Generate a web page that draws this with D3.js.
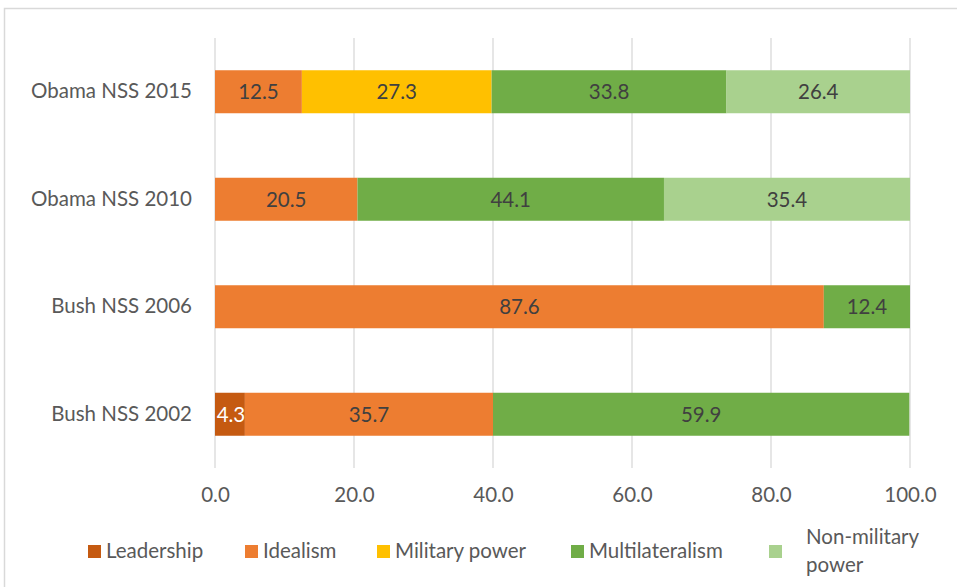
<!DOCTYPE html>
<html>
<head>
<meta charset="utf-8">
<script src="https://cdn.jsdelivr.net/npm/d3@7"></script>
<style>
	body { margin: 0; background: #fff; }
	svg { display: block; font-family: Lato, "Open Sans", sans-serif; }
</style>
</head>
<body>
<svg id="chart"></svg>
<script>
// categories bottom to top as read on the chart
const documents = ["Bush NSS 2002", "Bush NSS 2006", "Obama NSS 2010", "Obama NSS 2015"];
const seriesNames = ["Leadership", "Idealism", "Military power", "Multilateralism", "Non-military power"];
const leadership = [4.3, 0, 0, 0];
const idealism = [35.7, 87.6, 20.5, 12.5];
const militaryPower = [0, 0, 0, 27.3];
const multilateralism = [59.9, 12.4, 44.1, 33.8];
const nonMilitaryPower = [0, 0, 35.4, 26.4];
const xTicks = [0, 20, 40, 60, 80, 100];

const colors = ["#C55A11", "#ED7D31", "#FFC000", "#70AD47", "#A9D18E"];

const width = 957, height = 587;
const margin = {top: 38, right: 47, bottom: 119, left: 215};
const innerWidth = width - margin.left - margin.right;
const innerHeight = height - margin.top - margin.bottom;
const fontSize = 20.5;

const table = documents.map((d, i) => ({
	doc: d,
	"Leadership": leadership[i],
	"Idealism": idealism[i],
	"Military power": militaryPower[i],
	"Multilateralism": multilateralism[i],
	"Non-military power": nonMilitaryPower[i]
}));

const svg = d3.select("#chart").attr("width", width).attr("height", height);

// chart frame (right and bottom edges fall outside the picture)
svg.append("path")
	.attr("d", `M4.5,${height} V8.5 H${width}`)
	.attr("fill", "none").attr("stroke", "#D9D9D9").attr("stroke-width", 1.5);

const x = d3.scaleLinear().domain([0, 100]).range([0, innerWidth]);
const y = d3.scaleBand()
	.domain(documents.slice().reverse())
	.range([0, innerHeight])
	.paddingInner(0.6).paddingOuter(0.3);
const color = d3.scaleOrdinal().domain(seriesNames).range(colors);

const g = svg.append("g").attr("transform", `translate(${margin.left},${margin.top})`);

// gridlines
g.append("g")
	.selectAll("line")
	.data(xTicks)
	.enter().append("line")
	.attr("x1", d => x(d)).attr("x2", d => x(d))
	.attr("y1", 0).attr("y2", innerHeight)
	.attr("stroke", "#D9D9D9").attr("stroke-width", 1.3);

const stacked = d3.stack().keys(seriesNames)(table);

const layers = g.selectAll("g.layer")
	.data(stacked)
	.enter().append("g")
	.attr("class", "layer")
	.attr("fill", d => color(d.key));

layers.selectAll("rect")
	.data(d => d.filter(p => p[1] - p[0] > 0))
	.enter().append("rect")
	.attr("x", d => x(d[0]))
	.attr("y", d => y(d.data.doc))
	.attr("width", d => x(d[1]) - x(d[0]))
	.attr("height", y.bandwidth());

layers.selectAll("text")
	.data(d => d.filter(p => p[1] - p[0] > 0).map(p => ({p, key: d.key})))
	.enter().append("text")
	.attr("x", d => (x(d.p[0]) + x(d.p[1])) / 2 + (d.key === "Leadership" ? 1 : 0))
	.attr("y", d => y(d.p.data.doc) + y.bandwidth() / 2)
	.attr("dy", "0.36em")
	.attr("text-anchor", "middle")
	.attr("font-size", fontSize)
	.attr("fill", d => d.key === "Leadership" ? "#fff" : "#404040")
	.text(d => (d.p[1] - d.p[0]).toFixed(1));

// x axis labels
const xAxis = g.append("g")
	.attr("transform", `translate(0,${innerHeight})`)
	.call(d3.axisBottom(x).tickValues(xTicks).tickFormat(d3.format(".1f")).tickSize(0).tickPadding(19));
xAxis.select(".domain").remove();
xAxis.selectAll("text").attr("font-size", fontSize).attr("fill", "#595959").attr("font-family", "Lato, sans-serif");

// category labels
const yAxis = g.append("g")
	.call(d3.axisLeft(y).tickSize(0).tickPadding(23));
yAxis.select(".domain").remove();
yAxis.selectAll("text").attr("font-size", fontSize).attr("fill", "#595959").attr("font-family", "Lato, sans-serif");

// legend
const legendItems = [
	{name: "Leadership", x: 88, lines: ["Leadership"]},
	{name: "Idealism", x: 245, lines: ["Idealism"]},
	{name: "Military power", x: 377, lines: ["Military power"]},
	{name: "Multilateralism", x: 571, lines: ["Multilateralism"]},
	{name: "Non-military power", x: 769, lines: ["Non-military", "power"]}
];
const legend = svg.append("g");
const items = legend.selectAll("g")
	.data(legendItems)
	.enter().append("g")
	.attr("transform", d => `translate(${d.x},551)`);
items.append("rect")
	.attr("x", 0).attr("y", -6)
	.attr("width", 13).attr("height", 13)
	.attr("fill", d => color(d.name));
items.append("text")
	.attr("font-size", fontSize)
	.attr("fill", "#595959")
	.selectAll("tspan")
	.data(d => d.lines.map((l, i) => ({l, i, n: d.lines.length, nudge: d.lines.length > 1 ? 37 : 18})))
	.enter().append("tspan")
	.attr("x", d => d.nudge)
	.attr("y", d => (d.i - (d.n - 1) / 2) * 28)
	.attr("dy", "0.36em")
	.text(d => d.l);
</script>
</body>
</html>
